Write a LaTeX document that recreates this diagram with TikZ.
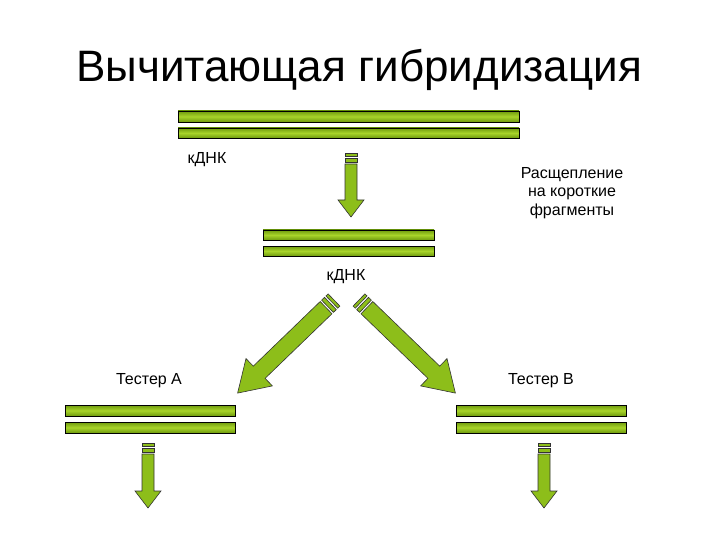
\documentclass[tikz,border=0pt]{standalone}
\usepackage{fontspec}
\setmainfont{Liberation Sans}
\definecolor{gdark}{HTML}{6E9A0E}
\definecolor{glight}{HTML}{A8D42A}
\definecolor{gfill}{HTML}{8DBE1A}
\begin{document}
\begin{tikzpicture}[x=1pt,y=-1pt,
  bar/.style={draw=black,line width=0.8pt,top color=gdark,bottom color=gdark,middle color=glight},
  arr/.style={draw=black!80,line width=0.6pt,fill=gfill},
  lab/.style={font=\fontsize{16}{18.5}\selectfont,align=center}]
\useasboundingbox (0,0) rectangle (720,540);
\newcommand{\garrow}[7]{%
\begin{scope}[shift={(#1,#2)},rotate=#3]
\path[arr] (-#5/2,0) rectangle (#5/2,3);
\path[arr] (-#5/2,5) rectangle (#5/2,9);
\path[arr] (-#5/2,11) -- (#5/2,11) -- (#5/2,#4-#7) -- (#6/2,#4-#7) -- (0,#4) -- (-#6/2,#4-#7) -- (-#5/2,#4-#7) -- cycle;
\end{scope}}
\node[font=\fontsize{44}{46}\selectfont] (title) at (359,70) {Вычитающая гибридизация};
% bars
\path[bar] (178,111) rectangle (519,122);
\path[bar] (178,128) rectangle (519,138);
\path[bar] (263,230) rectangle (434,240);
\path[bar] (263,246) rectangle (434,256);
\path[bar] (65,405) rectangle (235,416);
\path[bar] (65,422) rectangle (235,433);
\path[bar] (456,405) rectangle (626,416);
\path[bar] (456,422) rectangle (626,433);
% arrows
\garrow{351}{153}{0}{64}{12}{26}{17}
\garrow{148}{443}{0}{65}{12}{26}{17}
\garrow{544}{443}{0}{65}{12}{26}{17}
\garrow{334}{300}{-46}{134}{17}{38}{30}
\garrow{359}{300}{46}{134}{17}{38}{30}
% labels
\node[lab] (k1) at (207,160) {кДНК};
\node[lab] (r) at (572,193) {Расщепление\\на короткие\\фрагменты};
\node[lab] (k2) at (346,277) {кДНК};
\node[lab] (ta) at (149,381) {Тестер А};
\node[lab] (tb) at (541,381) {Тестер В};
\end{tikzpicture}
\end{document}
